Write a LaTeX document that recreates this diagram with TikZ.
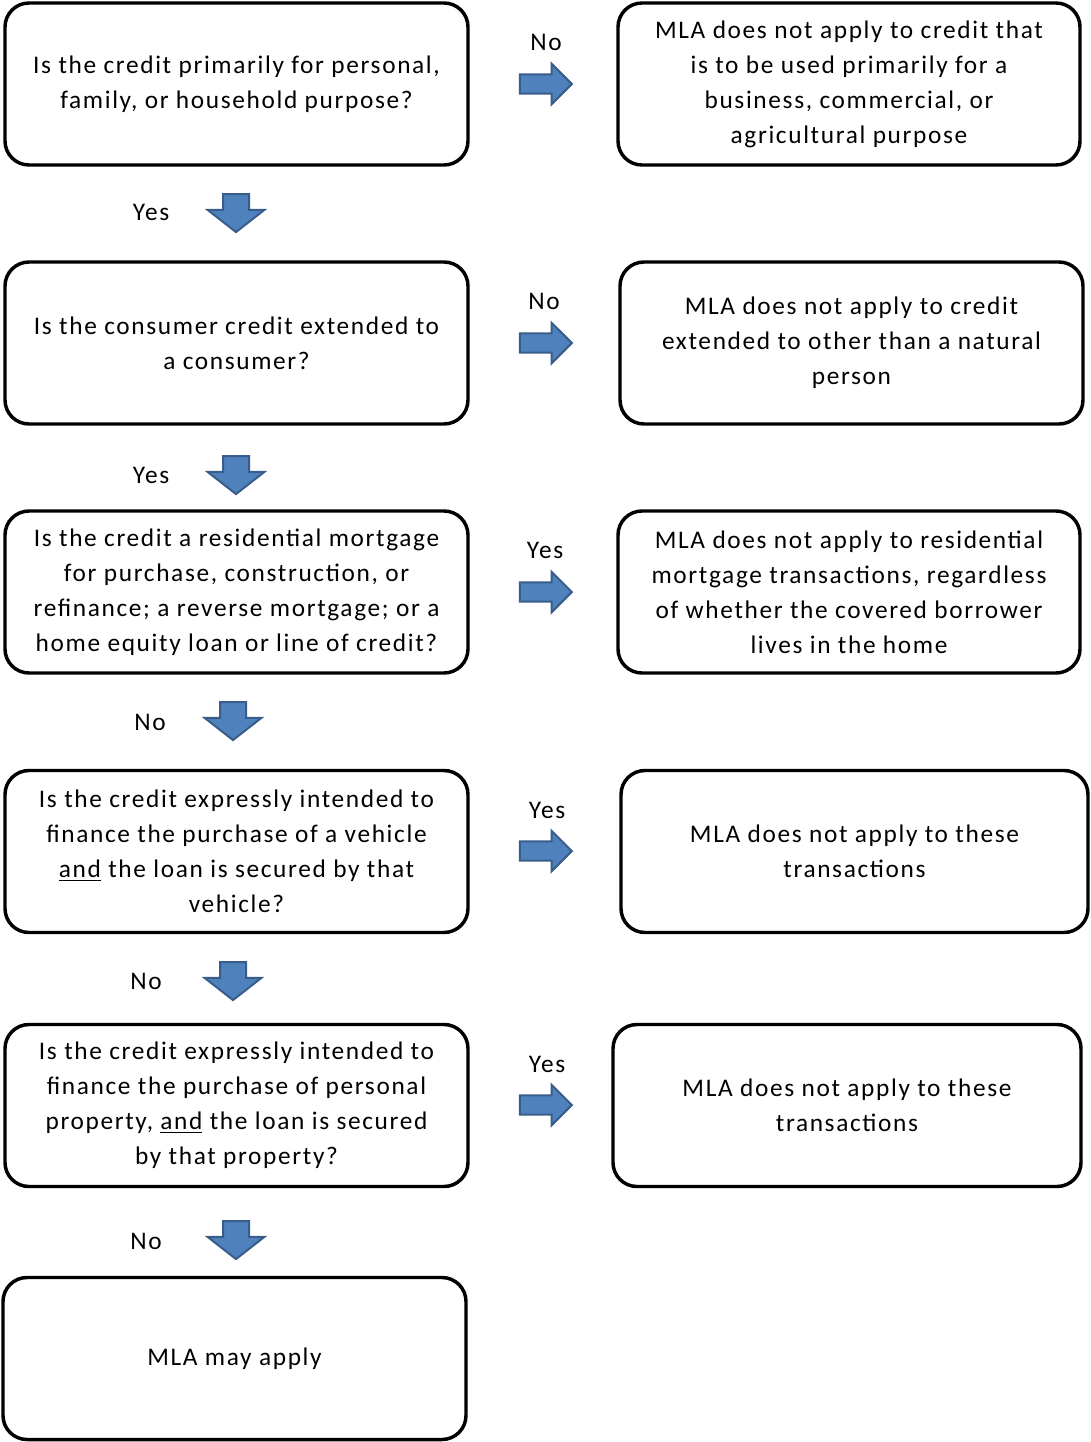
\documentclass[tikz,border=0pt]{standalone}
\usepackage{fontspec}
\setmainfont{Carlito}[LetterSpace=6.5]
\usepackage{tikz}
\usetikzlibrary{shapes.arrows}
\definecolor{ink}{HTML}{000000}
\definecolor{arrowfill}{HTML}{4F81BD}
\definecolor{arrowedge}{HTML}{385D8A}
\tikzset{
  qbox/.style={draw=ink, line width=2.6pt, rounded corners=18pt, minimum width=347.25pt,
    minimum height=121.5pt, align=center, inner sep=0pt, font=\fontsize{19}{26.25}\selectfont},
  lbl/.style={font=\fontsize{19}{26.25}\selectfont, inner sep=0pt},
  rarrow/.style={single arrow, draw=arrowedge, fill=arrowfill, line width=1.5pt, inner sep=6.5pt,
    minimum height=39pt, single arrow head extend=8pt, single arrow tip angle=90},
  darrow/.style={single arrow, shape border rotate=270, draw=arrowedge, fill=arrowfill, line width=1.5pt,
    inner sep=9pt, minimum height=28.5pt, single arrow head extend=11.5pt,
    single arrow tip angle=104},
}
\begin{document}
\begin{tikzpicture}[x=0.75pt, y=-0.75pt]
\useasboundingbox (0,0) rectangle (1091,1442);
\node[qbox] (q1) at (236.5,84) {Is the credit primarily for personal,\\family, or household purpose?};
\node[qbox] (q2) at (236.5,343) {Is the consumer credit extended to\\a consumer?};
\node[qbox] (q3) at (236.5,592) {Is the credit a residential mortgage\\for purchase, construction, or\\refinance; a reverse mortgage; or a\\home equity loan or line of credit?};
\node[qbox] (q4) at (236.5,851.5) {Is the credit expressly intended to\\finance the purchase of a vehicle\\\underline{and} the loan is secured by that\\vehicle?};
\node[qbox] (q5) at (236.5,1105.5) {Is the credit expressly intended to\\finance the purchase of personal\\property, \underline{and} the loan is secured\\by that property?};
\node[qbox] (end) at (234.5,1358.5) {MLA may apply};
\node[qbox, minimum width=346.5pt] (r1) at (849,84) {MLA does not apply to credit that\\is to be used primarily for a\\business, commercial, or\\agricultural purpose};
\node[qbox] (r2) at (851.5,343) {MLA does not apply to credit\\extended to other than a natural\\person};
\node[qbox, minimum width=346.5pt] (r3) at (849,592) {MLA does not apply to residential\\mortgage transactions, regardless\\of whether the covered borrower\\lives in the home};
\node[qbox, minimum width=350.25pt] (r4) at (854.5,851.5) {MLA does not apply to these\\transactions};
\node[qbox, minimum width=351pt] (r5) at (847,1105.5) {MLA does not apply to these\\transactions};
\node[rarrow] (a1) at (541,84) {};
\node[rarrow] (a2) at (541,343) {};
\node[rarrow] (a3) at (541,592) {};
\node[rarrow] (a4) at (541,851) {};
\node[rarrow] (a5) at (541,1105) {};
\node[lbl] (l1) at (546,42) {No};
\node[lbl] (l2) at (544,301) {No};
\node[lbl] (l3) at (545,550) {Yes};
\node[lbl] (l4) at (547,810) {Yes};
\node[lbl] (l5) at (547,1064) {Yes};
\node[darrow] (d1) at (236,208) {};
\node[darrow] (d2) at (236,470) {};
\node[darrow] (d3) at (233,716) {};
\node[darrow] (d4) at (233,976) {};
\node[darrow] (d5) at (236,1235) {};
\node[lbl] (m1) at (151,212) {Yes};
\node[lbl] (m2) at (151,475) {Yes};
\node[lbl] (m3) at (150,722) {No};
\node[lbl] (m4) at (146,981) {No};
\node[lbl] (m5) at (146,1241) {No};
\end{tikzpicture}
\end{document}
